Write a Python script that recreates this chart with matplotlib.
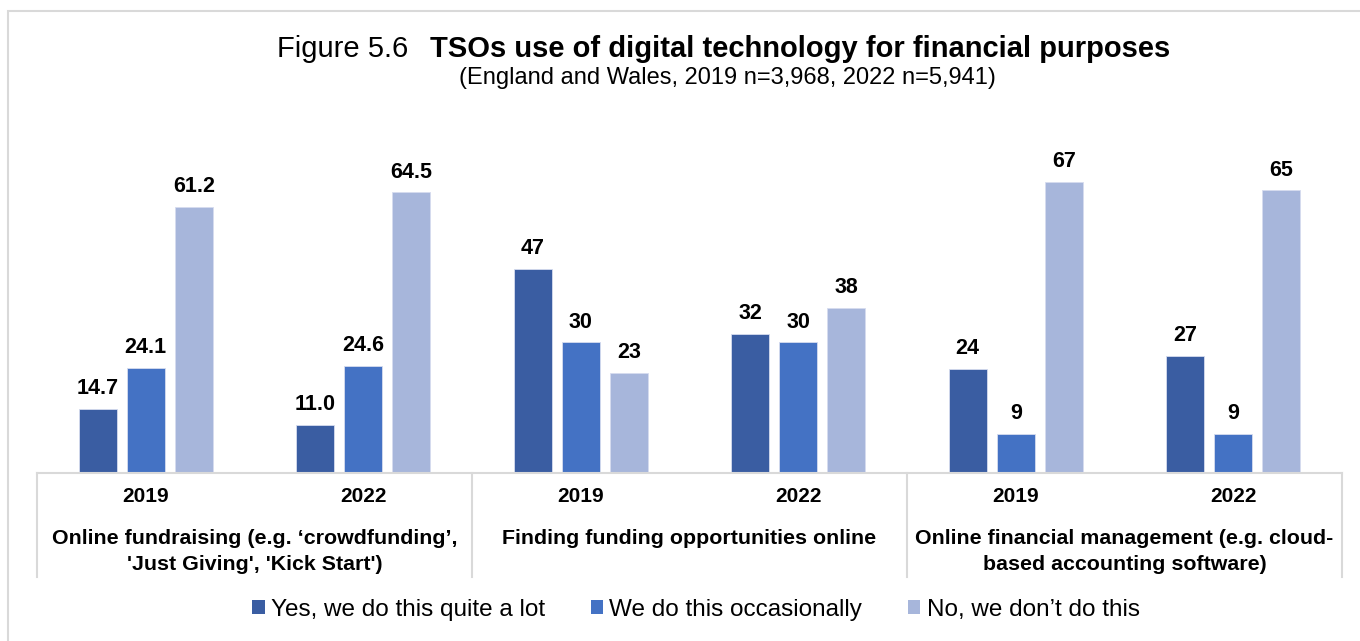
import matplotlib
matplotlib.use("Agg")
import matplotlib.pyplot as plt
from matplotlib.patches import Rectangle, Patch
import numpy as np

plt.rcParams['font.family'] = ['Liberation Sans', 'DejaVu Sans']

# Data
topics = [
    "Online fundraising (e.g. \u2018crowdfunding\u2019,\n'Just Giving', 'Kick Start')",
    "Finding funding opportunities online",
    "Online financial management (e.g. cloud-\nbased accounting software)",
]
years = ["2019", "2022"]
series_names = ["Yes, we do this quite a lot", "We do this occasionally", "No, we don\u2019t do this"]
yes_lot = [14.7, 11.0, 47, 32, 24, 27]
occasionally = [24.1, 24.6, 30, 30, 9, 9]
dont = [61.2, 64.5, 23, 38, 67, 65]
value_labels = [
    ["14.7", "11.0", "47", "32", "24", "27"],
    ["24.1", "24.6", "30", "30", "9", "9"],
    ["61.2", "64.5", "23", "38", "67", "65"],
]
colors = ["#3A5DA2", "#4472C4", "#A7B6DB"]

W, H = 1360, 641
fig = plt.figure(figsize=(W / 100, H / 100), dpi=100)

# Light frame around the figure
fig.patches.append(Rectangle((8 / W, -0.1), 2.0, (H - 11) / H + 0.1, transform=fig.transFigure,
                             fill=False, edgecolor="#D9D9D9", linewidth=1.5))

left, right, bottom, top = 37, 1342, 473, 125
ax = fig.add_axes([left / W, (H - bottom) / H, (right - left) / W, (bottom - top) / H])
ax.set_xlim(0, 6)
ax.set_ylim(0, 80)
ax.axis("off")

x = np.arange(6) + 0.5
px_per_unit = (right - left) / 6
bw = 38 / px_per_unit
step = 48 / px_per_unit
series = [yes_lot, occasionally, dont]
for i, (vals, col) in enumerate(zip(series, colors)):
    xs = x + (i - 1) * step
    ax.bar(xs, vals, width=bw, color=col, edgecolor="#D6DCEF", linewidth=0.6, zorder=2)
    for xi, v, lab in zip(xs, vals, value_labels[i]):
        ax.annotate(lab, (xi, v), xytext=(0, 7), textcoords="offset points",
                    ha="center", va="bottom", fontsize=15.5, fontweight="bold", color="#000000")

# Multi-level category axis
tr = ax.get_xaxis_transform()
def yfrac(py):
    return -(py - bottom) / (bottom - top)

line_kw = dict(color="#D9D9D9", linewidth=1.5, transform=tr, clip_on=False, zorder=3)
ax.plot([0, 6], [0, 0], **line_kw)
for xv in [0, 2, 4, 6]:
    ax.plot([xv, xv], [0, yfrac(577)], **line_kw)

for i, xi in enumerate(x):
    ax.text(xi, yfrac(497), years[i % 2], transform=tr, ha="center", va="center",
            fontsize=15, fontweight="bold")
for j, t in enumerate(topics):
    for k, line in enumerate(t.split("\n")):
        ax.text(2 * j + 1, yfrac(538 + 26 * k), line, transform=tr, ha="center", va="center",
                fontsize=15.4, fontweight="bold")

# Title
fig.text(408 / W, 1 - 57 / H, "Figure 5.6", ha="right", va="baseline", fontsize=21)
fig.text(430 / W, 1 - 57 / H, "TSOs use of digital technology for financial purposes",
         ha="left", va="baseline", fontsize=21, fontweight="bold")
fig.text(727 / W, 1 - 78 / H, "(England and Wales, 2019 n=3,968, 2022 n=5,941)",
         ha="center", va="center", fontsize=17)

# Legend
handles = [Patch(facecolor=c, edgecolor="none") for c in colors]
fig.legend(handles, series_names, loc="center", bbox_to_anchor=(696 / W, 1 - 610 / H), ncol=3,
           frameon=False, fontsize=17.5, handlelength=0.5, handleheight=0.5, handletextpad=0.25,
           columnspacing=1.9)

fig.savefig("out.png", dpi=100)
